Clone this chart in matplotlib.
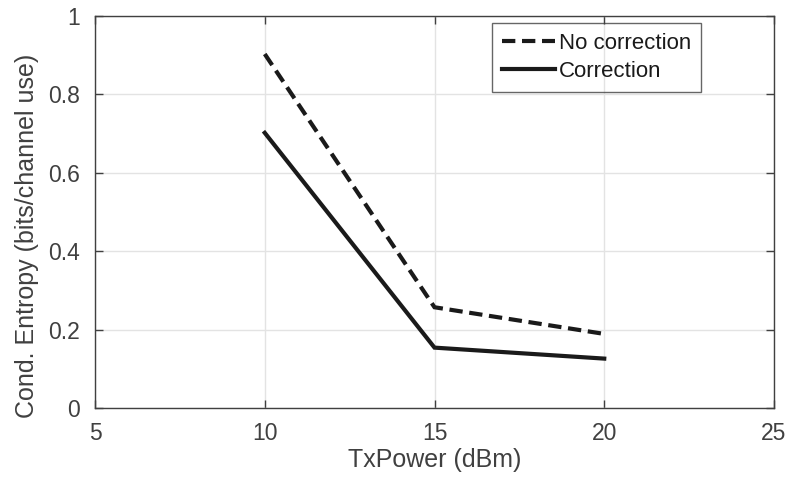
import matplotlib
matplotlib.use("Agg")
import matplotlib.pyplot as plt

plt.rcParams['font.family'] = ['Liberation Sans', 'DejaVu Sans']

# transmit power sweep and conditional entropy
tx_power = [10, 15, 20]
entropy_no_corr = [0.903, 0.257, 0.189]
entropy_corr = [0.702, 0.154, 0.126]

axis_grey = '#404040'

fig = plt.figure(figsize=(7.87, 4.8), dpi=100)
ax = fig.add_axes([95 / 787, 72 / 480, 679 / 787, 392 / 480])

ax.plot(tx_power, entropy_no_corr, color='#1a1a1a', lw=3.0, linestyle=(0, (3.2, 1.6)),
        label='No correction', solid_joinstyle='miter', dash_joinstyle='miter')
ax.plot(tx_power, entropy_corr, color='#1a1a1a', lw=3.0, linestyle='-',
        label='Correction', solid_joinstyle='miter')

ax.set_xlim(5, 25)
ax.set_ylim(0, 1)
ax.set_xticks([5, 10, 15, 20, 25])
ax.set_yticks([0, 0.2, 0.4, 0.6, 0.8, 1])
ax.set_yticklabels(['0', '0.2', '0.4', '0.6', '0.8', '1'])

ax.grid(True, color='#e3e3e3', lw=1.0)
ax.set_axisbelow(True)
for s in ax.spines.values():
    s.set_color(axis_grey)
    s.set_linewidth(1.0)
ax.tick_params(direction='in', length=6, width=1.0, color=axis_grey,
               labelcolor=axis_grey, labelsize=16.5, top=True, right=True)
ax.tick_params(axis='x', pad=10)
ax.tick_params(axis='y', pad=11)

ax.set_xlabel('TxPower (dBm)', fontsize=18, color=axis_grey, labelpad=2)
ax.set_ylabel('Cond. Entropy (bits/channel use)', fontsize=18, color=axis_grey, labelpad=5)
ax.yaxis.set_label_coords(-0.083, 0.44)

leg = ax.legend(loc='upper left', bbox_to_anchor=(492 / 787, 1 - 23 / 480),
                bbox_transform=fig.transFigure, fontsize=16, frameon=True,
                fancybox=False, handlelength=2.4, handletextpad=0.15,
                borderpad=0.45, labelspacing=0.3, borderaxespad=0)
leg.get_frame().set_facecolor('none')
leg.get_frame().set_edgecolor(axis_grey)
leg.get_frame().set_linewidth(1.0)
for t in leg.get_texts():
    t.set_color('#1a1a1a')

fig.savefig('out.png', dpi=100)
